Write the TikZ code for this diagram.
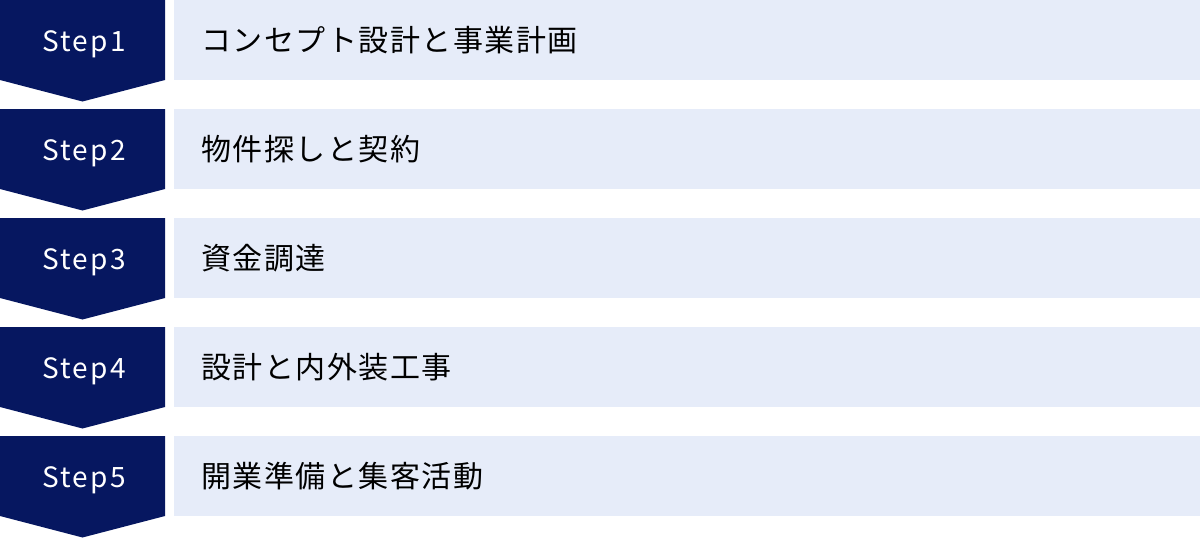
\documentclass[tikz,border=0pt]{standalone}
\usepackage{fontspec}
\setmainfont{Noto Sans CJK JP}
\newfontfamily\jpfont[LetterSpace=5]{Noto Sans CJK JP}
\newfontfamily\tagfont[LetterSpace=8]{Noto Sans CJK JP}
\definecolor{navy}{RGB}{6,23,96}
\definecolor{pale}{RGB}{230,236,249}
\tikzset{
  steptag/.style={text=white,font=\tagfont\fontsize{28}{32}\selectfont,anchor=base,inner sep=0pt},
  steptext/.style={text=black,font=\jpfont\fontsize{30}{34}\selectfont,anchor=west,inner sep=0pt},
}
\begin{document}
\begin{tikzpicture}[x=1pt,y=-1pt]
\useasboundingbox (0,0) rectangle (1200,538);
\foreach \i/\t in {1/コンセプト設計と事業計画,2/物件探しと契約,3/資金調達,4/設計と内外装工事,5/開業準備と集客活動}{
  \pgfmathsetmacro{\top}{(\i-1)*109}
  \fill[navy] (0,\top) -- (165,\top) -- (165,\top+80) -- (82.5,\top+101.5) -- (0,\top+80) -- cycle;
  \fill[pale] (174,\top) rectangle (1200,\top+80);
  \node[steptag] (s\i) at (84,\top+51.5) {Step\i};
  \node[steptext] (t\i) at (201,\top+40) {\t};
}
\end{tikzpicture}
\end{document}
